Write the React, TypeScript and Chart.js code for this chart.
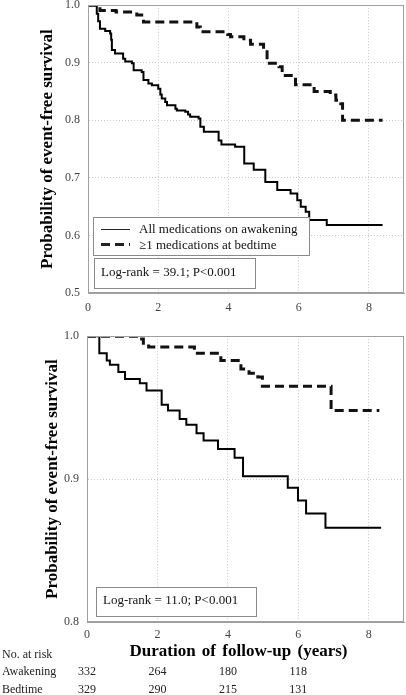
import React, { useEffect, useRef } from "react";
import { Chart, registerables } from "chart.js";

Chart.register(...registerables);

const FONT = "'Liberation Serif', 'Times New Roman', 'DejaVu Serif', serif";

// ---- Data ----
const seriesLabels = ["All medications on awakening", "\u22651 medications at bedtime"];
const yAxisTitle = "Probability of event-free survival";
const xAxisTitle = "Duration of follow-up (years)";
const xTickValues = [0, 2, 4, 6, 8];

// Top panel
const topAwakeTimes = [0, 0.25, 0.29, 0.34, 0.49, 0.63, 0.66, 0.68, 0.77, 1.0, 1.06, 1.25, 1.3, 1.53, 1.58, 1.72, 1.82, 2.0, 2.06, 2.1, 2.2, 2.25, 2.49, 2.53, 2.77, 2.85, 2.91, 3.15, 3.2, 3.3, 3.72, 3.8, 4.19, 4.45, 4.72, 5.05, 5.39, 5.77, 5.96, 6.06, 6.2, 6.3, 6.8, 8.39];
const topAwakeSurv = [1, 0.985, 0.972, 0.959, 0.955, 0.951, 0.94, 0.922, 0.916, 0.907, 0.902, 0.899, 0.887, 0.884, 0.87, 0.864, 0.861, 0.855, 0.845, 0.838, 0.832, 0.826, 0.82, 0.817, 0.815, 0.81, 0.806, 0.803, 0.789, 0.78, 0.765, 0.758, 0.754, 0.725, 0.714, 0.693, 0.679, 0.673, 0.661, 0.65, 0.641, 0.627, 0.618, 0.618];
const topBedTimes = [0, 0.34, 0.8, 1.39, 1.58, 3.1, 3.2, 3.98, 4.06, 4.44, 4.63, 5.0, 5.1, 5.44, 5.53, 5.91, 6.44, 6.9, 7.06, 7.2, 7.25, 8.39];
const topBedSurv = [1, 0.991, 0.988, 0.983, 0.971, 0.962, 0.954, 0.949, 0.945, 0.939, 0.932, 0.922, 0.899, 0.893, 0.878, 0.862, 0.85, 0.844, 0.835, 0.829, 0.8, 0.8];
const topYTicks = { min: 0.5, max: 1.0, step: 0.1 };
const topLogRank = "Log-rank = 39.1; P<0.001";

// Bottom panel
const botAwakeTimes = [0, 0.35, 0.56, 0.65, 0.89, 1.08, 1.5, 1.69, 2.12, 2.3, 2.63, 2.82, 3.11, 3.31, 3.72, 4.19, 4.43, 5.7, 5.99, 6.22, 6.77, 8.35];
const botAwakeSurv = [1, 0.988, 0.983, 0.98, 0.975, 0.97, 0.967, 0.962, 0.952, 0.948, 0.942, 0.938, 0.932, 0.927, 0.921, 0.915, 0.902, 0.894, 0.885, 0.876, 0.866, 0.866];
const botBedTimes = [0, 1.45, 1.6, 1.75, 3.05, 3.8, 4.37, 4.6, 4.85, 4.98, 6.93, 8.3];
const botBedSurv = [1, 0.998, 0.995, 0.9925, 0.988, 0.983, 0.977, 0.974, 0.9715, 0.965, 0.948, 0.948];
const botYTicks = { min: 0.8, max: 1.0, step: 0.1 };
const botLogRank = "Log-rank = 11.0; P<0.001";

// Number at risk
const riskHeader = "No. at risk";
const riskTimes = [0, 2, 4, 6];
const riskRowLabels = ["Awakening", "Bedtime"];
const riskAwakening = [332, 264, 180, 118];
const riskBedtime = [329, 290, 215, 131];

// ---- helpers ----
const toXY = (t: number[], s: number[]) => t.map((x, i) => ({ x, y: s[i] }));

type PanelCfg = {
  awakeT: number[];
  awakeS: number[];
  bedT: number[];
  bedS: number[];
  yTicks: { min: number; max: number; step: number };
  logRank: string;
  isTop: boolean;
  yAxisWidth: number;
  xAxisHeight: number;
  xTickPad: number;
  yTitlePad: number;
};

function overlayPlugin(cfg: PanelCfg) {
  return {
    id: "overlay",
    afterDraw(chart: any) {
      const ctx: any = chart.ctx;
      const a = chart.chartArea;
      ctx.save();
      // frame
      ctx.strokeStyle = "#a0a0a0";
      ctx.lineWidth = 1;
      ctx.strokeRect(Math.round(a.left) + 0.5, Math.round(a.top) + 0.5, Math.round(a.right - a.left) - 1, Math.round(a.bottom - a.top) - 1);

      const box = (x: number, y: number, w: number, h: number) => {
        ctx.fillStyle = "#fff";
        ctx.fillRect(x, y, w, h);
        ctx.strokeStyle = "#8a8a8a";
        ctx.lineWidth = 1;
        ctx.strokeRect(x + 0.5, y + 0.5, w, h);
      };
      ctx.font = `13px ${FONT}`;
      ctx.textBaseline = "middle";
      ctx.textAlign = "left";

      if (cfg.isTop) {
        // legend
        const lx = a.left + 5;
        const ly = a.bottom - 76;
        box(lx, ly, 216, 38);
        const r1 = a.bottom - 64;
        const r2 = a.bottom - 48.5;
        ctx.strokeStyle = "#222";
        ctx.lineWidth = 1;
        ctx.beginPath();
        ctx.moveTo(a.left + 13, r1 + 0.5);
        ctx.lineTo(a.left + 42, r1 + 0.5);
        ctx.stroke();
        ctx.lineWidth = 3;
        ctx.setLineDash([9, 5]);
        ctx.beginPath();
        ctx.moveTo(a.left + 13, r2);
        ctx.lineTo(a.left + 42, r2);
        ctx.stroke();
        ctx.setLineDash([]);
        ctx.fillStyle = "#111";
        ctx.fillText(seriesLabels[0], a.left + 51, r1 + 1);
        ctx.fillText(seriesLabels[1], a.left + 51, r2 + 1);
        // log-rank
        box(a.left + 6, a.bottom - 35, 161, 30);
        ctx.fillStyle = "#111";
        ctx.fillText(cfg.logRank, a.left + 13, a.bottom - 20);
      } else {
        box(a.left + 9, a.bottom - 35, 160, 29);
        ctx.fillStyle = "#111";
        ctx.fillText(cfg.logRank, a.left + 16, a.bottom - 21);

        // x axis title
        ctx.font = `bold 17px ${FONT}`;
        ctx.textAlign = "center";
        ctx.fillStyle = "#000";
        if ("wordSpacing" in ctx) ctx.wordSpacing = "2px";
        ctx.fillText(xAxisTitle, (a.left + a.right) / 2 - 7, a.bottom + 30);
        if ("wordSpacing" in ctx) ctx.wordSpacing = "0px";

        // number at risk table
        const xs = chart.scales.x;
        ctx.font = `12px ${FONT}`;
        ctx.fillStyle = "#222";
        ctx.textAlign = "left";
        ctx.fillText(riskHeader, 2, a.bottom + 33);
        ctx.fillText(riskRowLabels[0], 2, a.bottom + 50);
        ctx.fillText(riskRowLabels[1], 2, a.bottom + 68);
        ctx.textAlign = "center";
        riskTimes.forEach((t, i) => {
          const px = xs.getPixelForValue(t);
          ctx.fillText(String(riskAwakening[i]), px, a.bottom + 50);
          ctx.fillText(String(riskBedtime[i]), px, a.bottom + 68);
        });
      }
      ctx.restore();
    },
  };
}

function makeChart(canvas: HTMLCanvasElement, cfg: PanelCfg) {
  const tickFont = { family: FONT, size: 12 };
  return new Chart(canvas, {
    type: "line",
    data: {
      datasets: [
        {
          label: seriesLabels[0],
          data: toXY(cfg.awakeT, cfg.awakeS),
          borderColor: "#000",
          borderWidth: 2,
          stepped: "before",
          pointRadius: 0,
          fill: false,
        },
        {
          label: seriesLabels[1],
          data: toXY(cfg.bedT, cfg.bedS),
          borderColor: "#111",
          borderWidth: 3,
          borderDash: [9, 5],
          stepped: "before",
          pointRadius: 0,
          fill: false,
        },
      ],
    },
    options: {
      responsive: false,
      animation: false,
      devicePixelRatio: 1,
      layout: { padding: { top: 10, right: 2, left: 0, bottom: 0 } },
      plugins: {
        legend: { display: false },
        tooltip: { enabled: false },
      },
      scales: {
        x: {
          type: "linear",
          min: 0,
          max: 9,
          afterBuildTicks: (s: any) => {
            s.ticks = xTickValues.map((v) => ({ value: v }));
          },
          ticks: {
            stepSize: 2,
            includeBounds: false,
            font: tickFont,
            color: "#444",
            padding: cfg.xTickPad,
            maxRotation: 0,
          },
          grid: { color: "#c8c8c8", drawTicks: false, lineWidth: 1 },
          border: { display: true, color: "#a0a0a0", dash: [1, 2] },
          afterFit: (s: any) => {
            s.height = cfg.xAxisHeight;
          },
        },
        y: {
          type: "linear",
          min: cfg.yTicks.min,
          max: cfg.yTicks.max,
          ticks: {
            stepSize: cfg.yTicks.step,
            font: tickFont,
            color: "#444",
            padding: 8,
            callback: (v: any) => Number(v).toFixed(1),
          },
          grid: { color: "#c8c8c8", drawTicks: false, lineWidth: 1 },
          border: { display: true, color: "#a0a0a0", dash: [1, 2] },
          title: {
            display: true,
            text: yAxisTitle,
            font: { family: FONT, size: 17, weight: "bold" },
            color: "#000",
            padding: { top: cfg.yTitlePad, bottom: 0 },
          },
          afterFit: (s: any) => {
            s.width = cfg.yAxisWidth;
          },
        },
      },
    } as any,
    plugins: [overlayPlugin(cfg)],
  } as any);
}

function KMPanel({ cfg, top, height }: { cfg: PanelCfg; top: number; height: number }) {
  const ref = useRef<HTMLCanvasElement>(null);
  useEffect(() => {
    const chart = makeChart(ref.current as HTMLCanvasElement, cfg);
    return () => chart.destroy();
  }, []);
  return (
    <canvas
      ref={ref}
      width={406}
      height={height}
      style={{ position: "absolute", left: 0, top, width: 406, height, display: "block" }}
    />
  );
}

const topCfg: PanelCfg = {
  awakeT: topAwakeTimes,
  awakeS: topAwakeSurv,
  bedT: topBedTimes,
  bedS: topBedSurv,
  yTicks: topYTicks,
  logRank: topLogRank,
  isTop: true,
  yAxisWidth: 88,
  xAxisHeight: 25,
  xTickPad: 8,
  yTitlePad: 37,
};

const botCfg: PanelCfg = {
  awakeT: botAwakeTimes,
  awakeS: botAwakeSurv,
  bedT: botBedTimes,
  bedS: botBedSurv,
  yTicks: botYTicks,
  logRank: botLogRank,
  isTop: false,
  yAxisWidth: 87,
  xAxisHeight: 73,
  xTickPad: 6,
  yTitlePad: 42,
};

export default function App() {
  return (
    <div style={{ position: "absolute", left: 0, top: 0, width: 406, height: 695, overflow: "hidden", background: "#fff" }}>
      <KMPanel cfg={topCfg} top={-10} height={328} />
      <KMPanel cfg={botCfg} top={321} height={374} />
    </div>
  );
}
